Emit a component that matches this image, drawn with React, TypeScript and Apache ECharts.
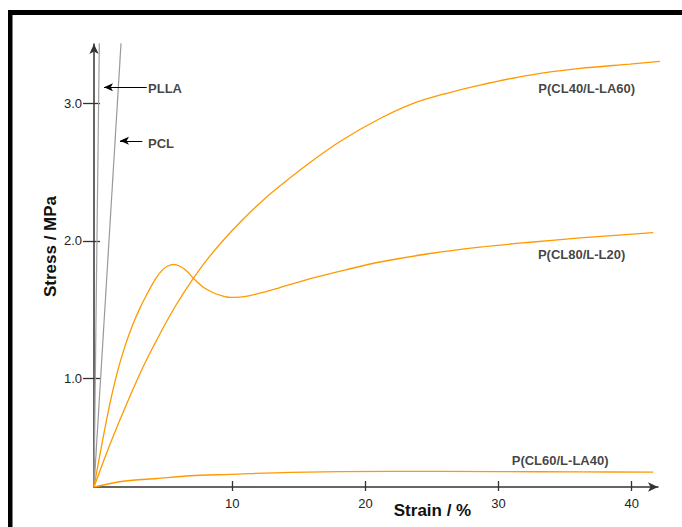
import React, { useEffect, useRef } from 'react';
import * as echarts from 'echarts';

// Axis extent (in the figure's own tick scale)
const xMin = -0.39;
const xMax = 41.98;
const yMin = 0.208;
const yMax = 3.435;

const xTickValues = [10, 20, 30, 40];
const yTickValues = [1, 2, 3];

const xAxisTitle = 'Strain / %';
const yAxisTitle = 'Stress / MPa';

// Stress–strain curves [strain %, stress MPa]
const plla = [[-0.39, 0.208], [0.01, 3.44]];
const pcl = [[-0.39, 0.208], [1.64, 3.44]];

const cl40 = [
  [-0.39, 0.208], [0.941, 0.551], [3.073, 1.036], [4.321, 1.279], [5.696, 1.521],
  [7.07, 1.728], [8.325, 1.891], [9.579, 2.033], [10.826, 2.16], [12.081, 2.277],
  [13.335, 2.382], [15.588, 2.554], [18.09, 2.725], [21.094, 2.892], [23.596, 3.003],
  [26.104, 3.076], [28.606, 3.136], [32.362, 3.209], [36.118, 3.257], [39.873, 3.289],
  [43.126, 3.318],
];

const cl80 = [
  [-0.39, 0.208], [-0.013, 0.409], [0.363, 0.602], [0.738, 0.784], [1.114, 0.948],
  [1.489, 1.09], [1.94, 1.234], [2.466, 1.377], [3.067, 1.513], [3.668, 1.627],
  [4.269, 1.729], [4.795, 1.793], [5.17, 1.818], [5.568, 1.83], [6.07, 1.816],
  [6.575, 1.782], [7.07, 1.728], [7.82, 1.663], [8.57, 1.623], [9.2, 1.602],
  [9.83, 1.59], [10.58, 1.591], [11.33, 1.602], [12.31, 1.626], [13.58, 1.661],
  [16.08, 1.731], [18.59, 1.792], [21.09, 1.847], [24.85, 1.909], [28.61, 1.956],
  [32.36, 1.991], [36.12, 2.022], [41.62, 2.061],
];

const cl60 = [
  [-0.39, 0.208], [1.81, 0.25], [4.32, 0.27], [6.82, 0.29], [9.83, 0.3], [14.33, 0.315],
  [21.85, 0.322], [29.96, 0.32], [36.12, 0.318], [41.62, 0.316],
];

// Annotation labels [x, y, text] (text left edge, vertical centre)
const annotations = [
  [3.67, 3.11, 'PLLA'],
  [3.67, 2.71, 'PCL'],
  [32.99, 3.11, 'P(CL40/L-LA60)'],
  [32.96, 1.9, 'P(CL80/L-L20)'],
  [30.99, 0.4, 'P(CL60/L-LA40)'],
];

// Pointer arrows [fromX, fromY, toX, toY]
const pointers = [
  [3.57, 3.12, 0.36, 3.12],
  [3.24, 2.73, 1.56, 2.73],
];

const FONT = "'Liberation Sans', Arial, Helvetica, sans-serif";
const ORANGE = '#FF9900';
const AXIS = '#333333';

export default function App() {
  const ref = useRef<HTMLDivElement>(null);

  useEffect(() => {
    if (!ref.current) return;
    const chart = echarts.init(ref.current, null, { renderer: 'svg' });

    const baseX = {
      type: 'value',
      min: xMin,
      max: xMax,
      gridIndex: 0,
      position: 'bottom',
      offset: 0,
      splitLine: { show: false },
    };
    const baseY = {
      type: 'value',
      min: yMin,
      max: yMax,
      gridIndex: 0,
      position: 'left',
      offset: 0,
      splitLine: { show: false },
    };

    const curve = (name: string, data: number[][]) => ({
      name,
      type: 'line',
      data,
      showSymbol: false,
      smooth: 0.3,
      clip: false,
      lineStyle: { color: ORANGE, width: 1.3 },
    });

    chart.setOption({
      animation: false,
      backgroundColor: '#ffffff',
      grid: {
        left: 94,
        top: 44,
        width: 564,
        height: 443,
        containLabel: false,
        outerBoundsMode: 'none',
      },
      xAxis: [
        {
          ...baseX,
          axisLine: {
            show: true,
            onZero: false,
            symbol: ['none', 'arrow'],
            symbolSize: [7, 10],
            lineStyle: { color: AXIS, width: 1.5 },
          },
          axisTick: {
            show: true,
            inside: false,
            length: 4,
            customValues: xTickValues,
            lineStyle: { color: AXIS, width: 1.3 },
          },
          axisLabel: {
            show: true,
            customValues: xTickValues,
            margin: 10,
            color: '#222',
            fontSize: 13,
            fontFamily: FONT,
          },
        },
        {
          ...baseX,
          axisLine: { show: false, onZero: false },
          axisTick: {
            show: true,
            inside: true,
            length: 6,
            customValues: xTickValues,
            lineStyle: { color: AXIS, width: 1.3 },
          },
          axisLabel: { show: false },
        },
      ],
      yAxis: [
        {
          ...baseY,
          axisLine: {
            show: true,
            onZero: false,
            symbol: ['none', 'arrow'],
            symbolSize: [7, 10],
            lineStyle: { color: AXIS, width: 1.5 },
          },
          axisTick: {
            show: true,
            inside: false,
            length: 11,
            customValues: yTickValues,
            lineStyle: { color: AXIS, width: 1.3 },
          },
          axisLabel: {
            show: true,
            customValues: yTickValues,
            margin: 12,
            color: '#222',
            fontSize: 13,
            fontFamily: FONT,
            formatter: (v: number) => v.toFixed(1),
          },
        },
        {
          ...baseY,
          axisLine: { show: false, onZero: false },
          axisTick: {
            show: true,
            inside: true,
            length: 6,
            customValues: yTickValues,
            lineStyle: { color: AXIS, width: 1.3 },
          },
          axisLabel: { show: false },
        },
      ],
      series: [
        {
          name: 'PLLA',
          type: 'line',
          data: plla,
          showSymbol: false,
          clip: false,
          lineStyle: { color: '#a0a0a0', width: 1.2 },
          markLine: {
            silent: true,
            symbol: ['none', 'arrow'],
            symbolSize: [6, 9],
            lineStyle: { color: '#000', width: 1, type: 'solid' },
            label: { show: false },
            data: pointers.map((p) => [{ coord: [p[0], p[1]] }, { coord: [p[2], p[3]] }]),
          },
        },
        {
          name: 'PCL',
          type: 'line',
          data: pcl,
          showSymbol: false,
          clip: false,
          lineStyle: { color: '#999999', width: 1.2 },
        },
        curve('P(CL40/L-LA60)', cl40),
        curve('P(CL80/L-L20)', cl80),
        curve('P(CL60/L-LA40)', cl60),
        {
          name: 'labels',
          type: 'scatter',
          data: annotations,
          symbolSize: 0,
          silent: true,
          clip: false,
          label: {
            show: true,
            position: 'right',
            distance: 0,
            formatter: (p: any) => p.data[2],
            color: '#111',
            fontSize: 13,
            fontWeight: 'bold',
            fontFamily: FONT,
          },
        },
      ],
      graphic: [
        { type: 'rect', shape: { x: 8, y: 10, width: 700, height: 5 }, style: { fill: '#000' } },
        { type: 'rect', shape: { x: 8, y: 10, width: 4.5, height: 600 }, style: { fill: '#000' } },
        {
          type: 'text',
          x: 50,
          y: 246.5,
          rotation: Math.PI / 2,
          style: {
            text: yAxisTitle,
            align: 'center',
            verticalAlign: 'middle',
            font: `bold 17px ${FONT}`,
            fill: '#111',
          },
        },
        {
          type: 'text',
          x: 432.5,
          y: 510.5,
          style: {
            text: xAxisTitle,
            align: 'center',
            verticalAlign: 'middle',
            font: `bold 17px ${FONT}`,
            fill: '#111',
          },
        },
      ],
    });

    return () => chart.dispose();
  }, []);

  return (
    <div
      ref={ref}
      style={{ position: 'absolute', left: 0, top: 0, width: 682, height: 527 }}
    />
  );
}
